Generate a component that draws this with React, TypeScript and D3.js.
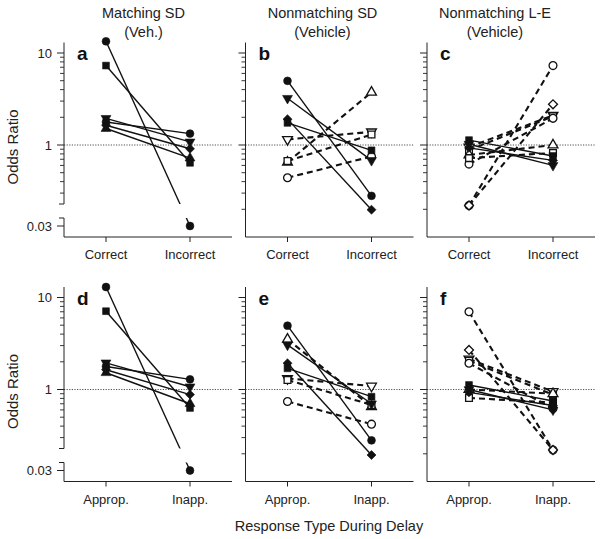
import React from "react";
import * as d3 from "d3";

// ---------- data ----------
const topCategories = ["Correct", "Incorrect"];
const bottomCategories = ["Approp.", "Inapp."];
const titleLine1 = ["Matching SD", "Nonmatching SD", "Nonmatching L-E"];
const titleLine2 = ["(Veh.)", "(Vehicle)", "(Vehicle)"];
const panelLetters = ["a", "b", "c", "d", "e", "f"];
const majorTickValues = [1, 10];
const majorTickLabels = ["1", "10"];
const minorTickValues = [0.2, 0.3, 0.4, 0.5, 0.6, 0.7, 0.8, 0.9, 2, 3, 4, 5, 6, 7, 8, 9];
const brokenTickValue = 0.03;
const brokenTickLabel = "0.03";
const yAxisTitle = "Odds Ratio";
const xAxisTitle = "Response Type During Delay";

// panel a: Matching SD, Correct / Incorrect
const aSolid = [[13.4, 0.03], [7.3, 0.64], [1.95, 1.08], [1.78, 1.33], [1.64, 0.91], [1.51, 0.72]];
const aSolidShapes = ["circle", "square", "triDown", "circle", "diamond", "triUp"];
const aDashed: number[][] = [];
const aDashedShapes: string[] = [];

// panel b: Nonmatching SD
const bSolid = [[4.98, 0.28], [3.22, 0.68], [1.91, 0.198], [1.74, 0.875]];
const bSolidShapes = ["circle", "triDown", "diamond", "square"];
const bDashed = [[1.15, 1.39], [0.65, 3.74], [0.67, 1.3], [0.44, 0.75]];
const bDashedShapes = ["triDown", "triUp", "square", "circle"];

// panel c: Nonmatching L-E
const cSolid = [[1.13, 0.76], [1.02, 0.6], [0.93, 0.68]];
const cSolidShapes = ["square", "triDown", "diamond"];
const cDashed = [[0.22, 7.3], [0.22, 2.77], [0.95, 2.1], [0.88, 2.05], [0.62, 1.95], [0.78, 1.0], [0.72, 0.82]];
const cDashedShapes = ["circle", "diamond", "triDown", "square", "circle", "triUp", "square"];

// panel d: Matching SD, Approp. / Inapp.
const dSolid = [[13.0, 0.03], [7.1, 0.63], [1.95, 1.07], [1.78, 1.29], [1.64, 0.88], [1.52, 0.7]];
const dSolidShapes = ["circle", "square", "triDown", "circle", "diamond", "triUp"];
const dDashed: number[][] = [];
const dDashedShapes: string[] = [];

// panel e
const eSolid = [[4.94, 0.28], [3.05, 0.7], [1.93, 0.194], [1.7, 0.835]];
const eSolidShapes = ["circle", "triDown", "diamond", "square"];
const eDashed = [[3.51, 0.65], [1.32, 1.09], [1.27, 0.68], [0.74, 0.42]];
const eDashedShapes = ["triUp", "triDown", "square", "circle"];

// panel f
const fSolid = [[1.12, 0.75], [1.0, 0.6], [0.93, 0.67]];
const fSolidShapes = ["square", "triDown", "diamond"];
const fDashed = [[7.0, 0.22], [2.69, 0.22], [2.15, 0.95], [2.05, 0.88], [1.93, 0.62], [1.0, 0.9], [0.81, 0.72]];
const fDashedShapes = ["circle", "diamond", "triDown", "square", "circle", "triUp", "square"];

// ---------- layout ----------
const W = 600;
const H = 539;
const FONT = "'Liberation Sans', Arial, Helvetica, sans-serif";
const panelLeft = [64, 245.5, 427];
const panelWidth = 168;
const rowOne = [145, 389.5]; // pixel position of odds ratio 1
const decade = 92;
const titleX = [143.5, 322.5, 495];

const panels = [
  { solid: aSolid, solidShapes: aSolidShapes, dashed: aDashed, dashedShapes: aDashedShapes, broken: true },
  { solid: bSolid, solidShapes: bSolidShapes, dashed: bDashed, dashedShapes: bDashedShapes, broken: false },
  { solid: cSolid, solidShapes: cSolidShapes, dashed: cDashed, dashedShapes: cDashedShapes, broken: false },
  { solid: dSolid, solidShapes: dSolidShapes, dashed: dDashed, dashedShapes: dDashedShapes, broken: true },
  { solid: eSolid, solidShapes: eSolidShapes, dashed: eDashed, dashedShapes: eDashedShapes, broken: false },
  { solid: fSolid, solidShapes: fSolidShapes, dashed: fDashed, dashedShapes: fDashedShapes, broken: false },
];

function symbolPath(shape: string): { d: string; rot: number } {
  if (shape === "circle") return { d: d3.symbol().type(d3.symbolCircle).size(48)() as string, rot: 0 };
  if (shape === "square") return { d: d3.symbol().type(d3.symbolSquare).size(46)() as string, rot: 0 };
  if (shape === "diamond") return { d: d3.symbol().type(d3.symbolSquare).size(40)() as string, rot: 45 };
  if (shape === "triUp") return { d: d3.symbol().type(d3.symbolTriangle).size(42)() as string, rot: 0 };
  return { d: d3.symbol().type(d3.symbolTriangle).size(42)() as string, rot: 180 };
}

function Panel({ index }: { index: number }) {
  const col = index % 3;
  const row = Math.floor(index / 3);
  const p = panels[index];
  const x0 = panelLeft[col];
  const y1 = rowOne[row];
  const cats = row === 0 ? topCategories : bottomCategories;

  const x = d3.scalePoint<string>().domain(cats).range([x0, x0 + panelWidth]).padding(0.5);
  const y = d3.scaleLog().domain([0.1, 10]).range([y1 + decade, y1 - decade]);
  const lowAnchor = y1 + 81;
  const yLow = d3
    .scaleLog()
    .domain([0.01, 0.1])
    .range([lowAnchor + decade * (Math.log10(0.03) + 2), lowAnchor - decade * (-1 - Math.log10(0.03))]);
  const yv = (v: number) => (p.broken && v < 0.1 ? yLow(v) : y(v));

  const axisBottom = y(0.1);
  const axisTop = y(13);
  const breakTop = y1 + 59;
  const breakBottom = y1 + 73;
  const clipId = `clip-${index}`;

  const lineGen = d3
    .line<number>()
    .x((_, i) => x(cats[i]) as number)
    .y((v) => yv(v));

  const showLabels = col === 0;
  const minorVisible = minorTickValues.filter((v) => !p.broken || y(v) <= breakTop + 0.5);

  const markers: JSX.Element[] = [];
  const drawMarkers = (series: number[][], shapes: string[], filled: boolean, key: string) => {
    series.forEach((vals, si) => {
      const sp = symbolPath(shapes[si]);
      vals.forEach((v, i) => {
        markers.push(
          <path
            key={`${key}-${si}-${i}`}
            d={sp.d}
            transform={`translate(${x(cats[i])},${yv(v)}) rotate(${sp.rot})`}
            fill={filled ? "#111" : "#fff"}
            stroke="#111"
            strokeWidth={filled ? 0.6 : 1.3}
          />
        );
      });
    });
  };
  drawMarkers(p.dashed, p.dashedShapes, false, "d");
  drawMarkers(p.solid, p.solidShapes, true, "s");

  return (
    <g>
      {p.broken && (
        <clipPath id={clipId}>
          <rect x={x0} y={0} width={panelWidth} height={breakTop - 0} />
          <rect x={x0} y={breakBottom} width={panelWidth} height={60} />
        </clipPath>
      )}
      {/* reference line at 1 */}
      <line x1={x0} x2={x0 + panelWidth} y1={y(1)} y2={y(1)} stroke="#222" strokeWidth={0.8} strokeDasharray="1.2,1.4" />
      {/* x axis */}
      <line x1={x0} x2={x0 + panelWidth} y1={axisBottom} y2={axisBottom} stroke="#222" strokeWidth={1} />
      {cats.map((c) => (
        <g key={c}>
          <line x1={x(c)} x2={x(c)} y1={axisBottom} y2={axisBottom + 5} stroke="#222" strokeWidth={1} />
          <text x={x(c)} y={y1 + 114} textAnchor="middle" fontSize={13} fontFamily={FONT} fill="#222">
            {c}
          </text>
        </g>
      ))}
      {/* y axis */}
      {p.broken ? (
        <g>
          <line x1={x0} x2={x0} y1={axisTop} y2={breakTop} stroke="#222" strokeWidth={1} />
          <line x1={x0 - 5} x2={x0} y1={breakTop} y2={breakTop} stroke="#222" strokeWidth={1} />
          <line x1={x0} x2={x0} y1={breakBottom} y2={axisBottom} stroke="#222" strokeWidth={1} />
          <line x1={x0 - 5} x2={x0} y1={breakBottom} y2={breakBottom} stroke="#222" strokeWidth={1} />
          <line x1={x0 - 7} x2={x0} y1={yLow(brokenTickValue)} y2={yLow(brokenTickValue)} stroke="#222" strokeWidth={1} />
          <text x={x0 - 12} y={yLow(brokenTickValue)} dy="0.35em" textAnchor="end" fontSize={13} fontFamily={FONT} fill="#222">
            {brokenTickLabel}
          </text>
        </g>
      ) : (
        <line x1={x0} x2={x0} y1={axisTop} y2={axisBottom} stroke="#222" strokeWidth={1} />
      )}
      {majorTickValues.map((v, i) => (
        <g key={`M${v}`}>
          <line x1={x0 - 7} x2={x0} y1={y(v)} y2={y(v)} stroke="#222" strokeWidth={1} />
          {showLabels && (
            <text x={x0 - 12} y={y(v)} dy="0.35em" textAnchor="end" fontSize={13} fontFamily={FONT} fill="#222">
              {majorTickLabels[i]}
            </text>
          )}
        </g>
      ))}
      {minorVisible.map((v) => (
        <line key={`m${v}`} x1={x0 - 4} x2={x0} y1={y(v)} y2={y(v)} stroke="#222" strokeWidth={0.9} />
      ))}
      {/* lines */}
      <g clipPath={p.broken ? `url(#${clipId})` : undefined}>
        {p.dashed.map((vals, si) => (
          <path key={`dl${si}`} d={lineGen(vals) as string} fill="none" stroke="#111" strokeWidth={2.1} strokeDasharray="6,4" />
        ))}
        {p.solid.map((vals, si) => (
          <path key={`sl${si}`} d={lineGen(vals) as string} fill="none" stroke="#111" strokeWidth={1.4} />
        ))}
      </g>
      {markers}
      {/* panel letter */}
      <text x={x0 + 13} y={y1 - 85} fontSize={19} fontWeight="bold" fontFamily={FONT} fill="#111">
        {panelLetters[index]}
      </text>
      {showLabels && (
        <text
          transform={`translate(17.5, ${y1 + 2}) rotate(-90)`}
          textAnchor="middle"
          fontSize={15}
          fontFamily={FONT}
          fill="#222"
        >
          {yAxisTitle}
        </text>
      )}
    </g>
  );
}

export default function App() {
  return (
    <svg
      width={W}
      height={H}
      viewBox={`0 0 ${W} ${H}`}
      style={{ position: "absolute", left: 0, top: 0, background: "#fff" }}
    >
      <rect width={W} height={H} fill="#fff" />
      {titleLine1.map((t, i) => (
        <g key={t}>
          <text x={titleX[i]} y={17.5} textAnchor="middle" fontSize={14.5} fontFamily={FONT} fill="#222">
            {t}
          </text>
          <text x={titleX[i]} y={37} textAnchor="middle" fontSize={14.5} fontFamily={FONT} fill="#222">
            {titleLine2[i]}
          </text>
        </g>
      ))}
      {panels.map((_, i) => (
        <Panel key={i} index={i} />
      ))}
      <text x={329} y={531} textAnchor="middle" fontSize={14.5} fontFamily={FONT} fill="#222">
        {xAxisTitle}
      </text>
    </svg>
  );
}
